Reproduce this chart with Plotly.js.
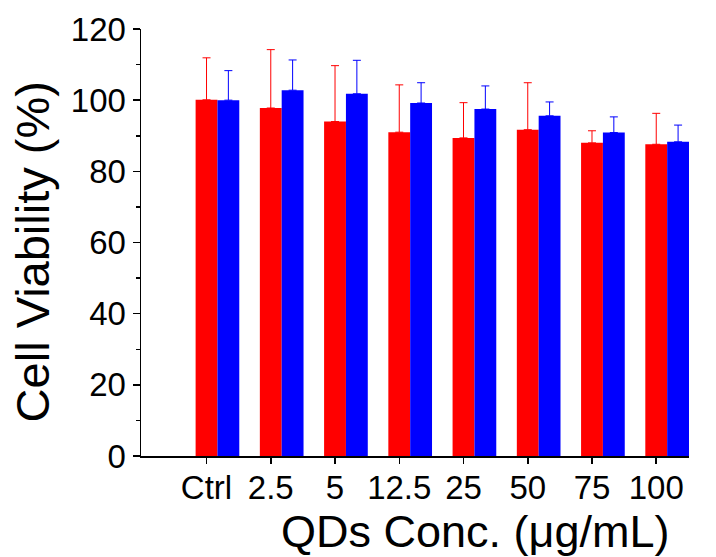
<!DOCTYPE html>
<html>
<head>
<meta charset="utf-8">
<script src="https://cdn.plot.ly/plotly-3.0.1.min.js"></script>
<style>html,body{margin:0;padding:0;background:#fff;}#chart{width:716px;height:557px;}</style>
</head>
<body>
<div id="chart"></div>
<script>
var categories = ['Ctrl', '2.5', '5', '12.5', '25', '50', '75', '100'];
var redValues  = [100.1, 97.8, 94.0, 91.0, 89.4, 91.7, 88.0, 87.6];
var redErrors  = [11.8, 16.4, 15.7, 13.3, 9.9, 13.2, 3.4, 8.7];
var blueValues = [100.0, 102.8, 101.8, 99.2, 97.5, 95.6, 90.9, 88.3];
var blueErrors = [8.3, 8.5, 9.4, 5.7, 6.5, 3.9, 4.4, 4.7];
var yTickVals  = [0, 20, 40, 60, 80, 100, 120];
var xTitle = 'QDs Conc. (μg/mL)';
var yTitle = 'Cell Viability (%)';

var FONT = 'Liberation Sans, Arial, Helvetica, sans-serif';
var zeros = categories.map(function(){ return 0; });

var traces = [
  {
    type: 'bar', x: categories, y: redValues,
    offset: -0.17, width: 0.34,
    marker: {color: '#ff0000', line: {width: 0}},
    error_y: {type: 'data', array: redErrors, arrayminus: zeros, symmetric: false,
              color: '#ff0000', thickness: 1, width: 4},
    showlegend: false, hoverinfo: 'x+y'
  },
  {
    type: 'bar', x: categories, y: blueValues,
    offset: 0.17, width: 0.34,
    marker: {color: '#0000ff', line: {width: 0}},
    error_y: {type: 'data', array: blueErrors, arrayminus: zeros, symmetric: false,
              color: '#0000ff', thickness: 1, width: 4},
    showlegend: false, hoverinfo: 'x+y'
  }
];

var layout = {
  width: 716, height: 557,
  margin: {l: 141, r: 27, t: 29, b: 101, pad: 0},
  paper_bgcolor: '#ffffff', plot_bgcolor: '#ffffff',
  font: {family: FONT, color: '#000000', size: 33},
  barmode: 'overlay',
  showlegend: false,
  xaxis: {
    type: 'category',
    range: [-1.02, 7.51],
    showgrid: false, zeroline: false,
    showline: true, linecolor: '#000000', linewidth: 1.5,
    ticks: 'outside', ticklen: 6, tickwidth: 1.5, tickcolor: '#000000',
    ticklabelstandoff: -4,
    tickfont: {family: FONT, size: 33, color: '#000000'},
    fixedrange: true
  },
  yaxis: {
    range: [0, 120],
    tickvals: yTickVals,
    showgrid: false, zeroline: false,
    showline: true, linecolor: '#000000', linewidth: 1.5,
    ticks: 'outside', ticklen: 7, tickwidth: 1.5, tickcolor: '#000000',
    minor: {dtick: 10, tick0: 0, ticks: 'outside', ticklen: 4, tickwidth: 1.5, tickcolor: '#000000', showgrid: false},
    tickfont: {family: FONT, size: 33, color: '#000000'},
    fixedrange: true
  },
  annotations: [
    {text: xTitle, xref: 'paper', yref: 'paper', x: 0.6095, y: -0.112,
     xanchor: 'center', yanchor: 'top', showarrow: false,
     font: {family: FONT, size: 45, color: '#000000'}},
    {text: yTitle, xref: 'paper', yref: 'paper', x: -0.198, y: 0.478,
     xanchor: 'center', yanchor: 'middle', textangle: -90, showarrow: false,
     font: {family: FONT, size: 47, color: '#000000'}}
  ]
};

Plotly.newPlot('chart', traces, layout, {displayModeBar: false, staticPlot: true});
</script>
</body>
</html>
